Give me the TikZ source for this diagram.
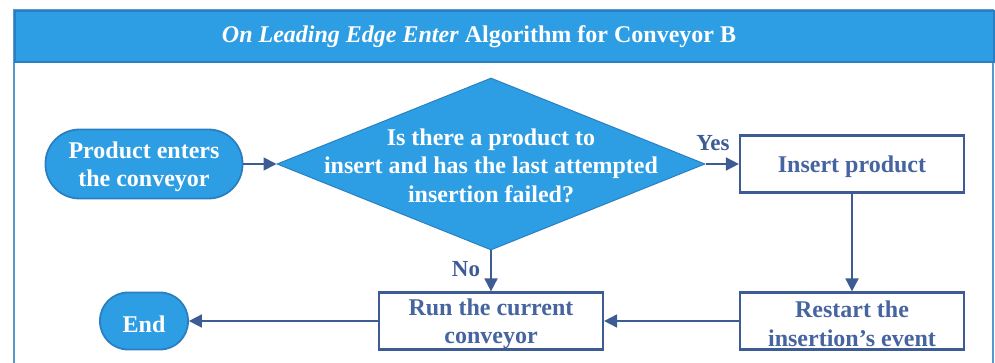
\documentclass[tikz,border=0pt]{standalone}
\usepackage{fontspec}
\setmainfont{Liberation Serif}
\usetikzlibrary{shapes.geometric,arrows.meta}
\definecolor{bfill}{HTML}{2E9EE4}
\definecolor{bedge}{HTML}{2A7FC2}
\definecolor{dblue}{HTML}{3D5C94}
\definecolor{tblue}{HTML}{4665A0}
\begin{document}
\begin{tikzpicture}[x=1pt,y=-1pt,
  txt/.style={font=\bfseries\fontsize{24}{28.5}\selectfont,align=center,inner sep=0pt},
  wtxt/.style={txt,text=white,yshift=-3pt},
  btxt/.style={txt,text=tblue,yshift=-3pt},
  term/.style={fill=bfill,draw=bedge,line width=1.8pt,inner sep=0pt},
  proc/.style={draw=dblue,line width=2.2pt,fill=white,inner sep=0pt,minimum width=224pt,minimum height=57pt},
  arr/.style={draw=dblue,line width=1.8pt,-{Triangle[length=13pt,width=13pt]}},
  lab/.style={font=\bfseries\fontsize{23}{26}\selectfont,text=dblue,inner sep=0pt}]
\useasboundingbox (0,0) rectangle (995,363);
% frame
\draw[draw=bedge!80!white,line width=1.8pt] (14,370) -- (14,10) -- (993,10) -- (993,370);
\node[fill=bfill,draw=bedge,line width=1.8pt,minimum width=979pt,minimum height=51pt,inner sep=0pt,anchor=north west] (title) at (14,10) {};
\node[font=\bfseries\fontsize{24}{28}\selectfont,text=white,inner sep=0pt] (ttext) at (479,37) {\textit{On Leading Edge Enter} Algorithm for Conveyor B};
% nodes
\node[term,minimum width=197pt,minimum height=69pt,rounded corners=34pt,label={[wtxt]center:Product enters\\the conveyor}] (start) at (144,164) {};
\node[diamond,fill=bfill,draw=bedge,line width=1pt,inner sep=0pt,minimum width=428pt,minimum height=172pt,
  label={[wtxt,yshift=1.5pt]center:Is there a product to\\insert and has the last attempted\\insertion failed?}] (q) at (491,164) {};
\node[proc,label={[btxt]center:Insert product}] (ins) at (852,164) {};
\node[proc,label={[btxt]center:Restart the\\insertion’s event}] (rst) at (852,321) {};
\node[proc,label={[btxt]center:Run the current\\conveyor}] (run) at (491,321) {};
\node[term,minimum width=88pt,minimum height=57pt,rounded corners=28pt,label={[wtxt]center:End}] (end) at (144,321) {};
% connectors
\draw[arr] (start) -- (q.west);
\draw[arr] (q.east) -- (ins.west);
\draw[arr] (ins) -- (rst);
\draw[arr] (q.south) -- (run.north);
\draw[arr] (rst) -- (run);
\draw[arr] (run) -- (end);
\node[lab] (yes) at (713,143) {Yes};
\node[lab] (no) at (466,269) {No};
\end{tikzpicture}
\end{document}
